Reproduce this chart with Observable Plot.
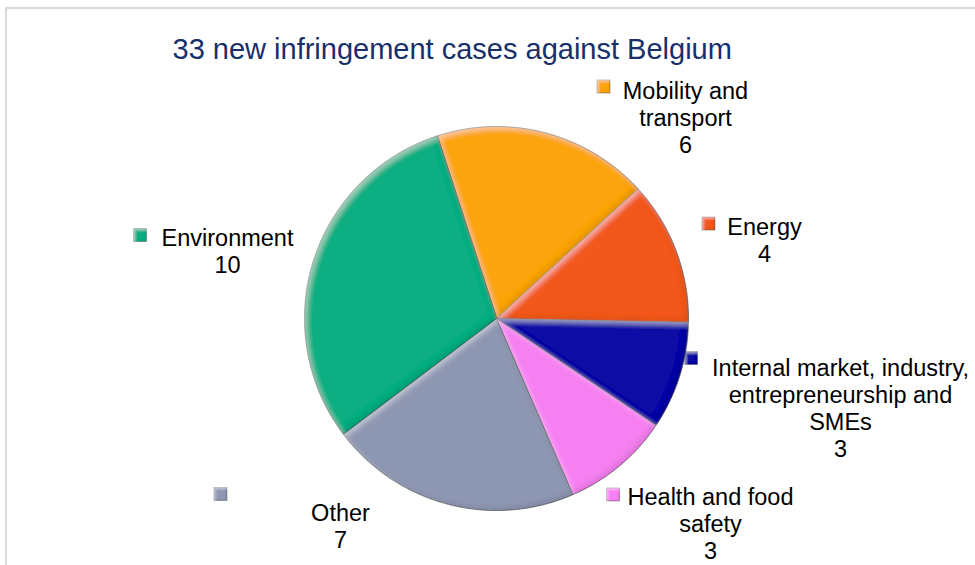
<!DOCTYPE html>
<html><head><meta charset="utf-8">
<script src="https://cdn.jsdelivr.net/npm/d3@7"></script>
<script src="https://cdn.jsdelivr.net/npm/@observablehq/plot@0.6"></script>
<style>
html,body{margin:0;padding:0;background:#fff;}
#wrap{position:relative;width:975px;height:565px;overflow:hidden;background:#fff;}
#chart{position:absolute;left:0;top:0;}
#border{position:absolute;left:5px;top:7px;width:1000px;height:600px;border:2px solid #d9d9d9;box-sizing:border-box;pointer-events:none;}
</style></head><body>
<div id="wrap"><div id="chart"></div><div id="border"></div></div>
<script>
// ---- data ----
const title = "33 new infringement cases against Belgium";
const categories = ["Mobility and transport", "Energy", "Internal market, industry, entrepreneurship and SMEs", "Health and food safety", "Other", "Environment"];
const values = [6, 4, 3, 3, 7, 10];
const labelLines = ["Mobility and\ntransport", "Energy", "Internal market, industry,\nentrepreneurship and\nSMEs", "Health and food\nsafety", "Other", "Environment"];
const colors = ["#FCA40C", "#F2581B", "#0B0BA6", "#F680F2", "#8E97B2", "#0BAF82"];

// ---- layout (pixels) ----
const W = 975, H = 565;
const cx = 496, cy = 318, R = 192;
const startDeg = -18;
const titleX = 172, titleBaseline = 58, titleSize = 29;
const labelX = [685, 764, 840, 710, 340, 227];
const labelBaseline = [96, 232, 373, 502, 518, 243];
const keyX = [603.5, 708.5, 691, 613, 220.5, 140];
const keyY = [86.5, 223.5, 358, 494.5, 494, 235];
const keySize = 13;
const fs = 23.5, lineH = 27;

// ---- derived ----
const rows = categories.map((c, i) => ({cat: c, value: values[i], color: colors[i], i}));
const a0 = startDeg * Math.PI / 180;
const arcs = d3.pie().sort(null).value(d => d.value).startAngle(a0).endAngle(a0 + 2 * Math.PI)(rows);
const pts = [];
for (const a of arcs) {
  const c = a.data;
  pts.push({cat: c.cat, color: c.color, x: cx, y: cy});
  const n = Math.max(2, Math.ceil((a.endAngle - a.startAngle) / (Math.PI / 360)));
  for (let k = 0; k <= n; k++) {
    const t = a.startAngle + (a.endAngle - a.startAngle) * k / n;
    pts.push({cat: c.cat, color: c.color, x: cx + R * Math.sin(t), y: cy - R * Math.cos(t)});
  }
}
const labels = rows.map(r => ({
  text: labelLines[r.i] + "\n" + r.value,
  x: labelX[r.i],
  y: labelBaseline[r.i] - 0.71 * fs
}));
const keys = rows.map(r => ({
  color: r.color,
  x1: keyX[r.i] - keySize / 2, x2: keyX[r.i] + keySize / 2,
  y1: keyY[r.i] - keySize / 2, y2: keyY[r.i] + keySize / 2
}));

const chart = Plot.plot({
  width: W, height: H,
  margin: 0,
  style: {background: "transparent", fontFamily: "'Liberation Sans', Arial, sans-serif"},
  x: {domain: [0, W], range: [0, W], axis: null},
  y: {domain: [0, H], range: [0, H], axis: null},
  color: {type: "identity"},
  marks: [
    Plot.rect(keys, {x1: "x1", x2: "x2", y1: "y1", y2: "y2", fill: "color", stroke: "#555", strokeOpacity: 0.5, strokeWidth: 0.8}),
    Plot.line(pts, {x: "x", y: "y", z: "cat", fill: "color", stroke: "#2a2a2a", strokeOpacity: 0.55, strokeWidth: 1, curve: "linear-closed"}),
    Plot.text(labels, {x: "x", y: "y", text: "text", lineAnchor: "top", textAnchor: "middle", fontSize: fs, lineHeight: lineH / fs, fill: "#000"}),
    Plot.text([title], {x: () => titleX, y: () => titleBaseline - 0.71 * titleSize, text: d => d, lineAnchor: "top", textAnchor: "start", fontSize: titleSize, fill: "#17306B"})
  ]
});

// soft bevel look (decoration only)
const svg = d3.select(chart.tagName.toLowerCase() === "svg" ? chart : chart.querySelector("svg"));
const defs = svg.insert("defs", ":first-child");
function bevel(id, blur, off, hi, lo) {
  const f = defs.append("filter").attr("id", id).attr("x", "-10%").attr("y", "-10%").attr("width", "120%").attr("height", "120%");
  f.append("feGaussianBlur").attr("in", "SourceAlpha").attr("stdDeviation", blur).attr("result", "blur");
  f.append("feOffset").attr("in", "blur").attr("dx", off).attr("dy", off).attr("result", "o1");
  f.append("feComposite").attr("in", "SourceAlpha").attr("in2", "o1").attr("operator", "out").attr("result", "m1");
  f.append("feFlood").attr("flood-color", "#ffffff").attr("flood-opacity", hi).attr("result", "w");
  f.append("feComposite").attr("in", "w").attr("in2", "m1").attr("operator", "in").attr("result", "hl");
  f.append("feOffset").attr("in", "blur").attr("dx", -off).attr("dy", -off).attr("result", "o2");
  f.append("feComposite").attr("in", "SourceAlpha").attr("in2", "o2").attr("operator", "out").attr("result", "m2");
  f.append("feFlood").attr("flood-color", "#000000").attr("flood-opacity", lo).attr("result", "b");
  f.append("feComposite").attr("in", "b").attr("in2", "m2").attr("operator", "in").attr("result", "sh");
  const m = f.append("feMerge");
  m.append("feMergeNode").attr("in", "SourceGraphic");
  m.append("feMergeNode").attr("in", "hl");
  m.append("feMergeNode").attr("in", "sh");
}
bevel("bevelPie", 2.5, 3, 0.35, 0.2);
bevel("bevelKey", 1.2, 1.5, 0.35, 0.2);
svg.selectAll("g[aria-label='line'] path").attr("filter", "url(#bevelPie)");
svg.selectAll("g[aria-label='rect'] rect").attr("filter", "url(#bevelKey)");

document.getElementById("chart").appendChild(chart);
</script>
</body></html>
